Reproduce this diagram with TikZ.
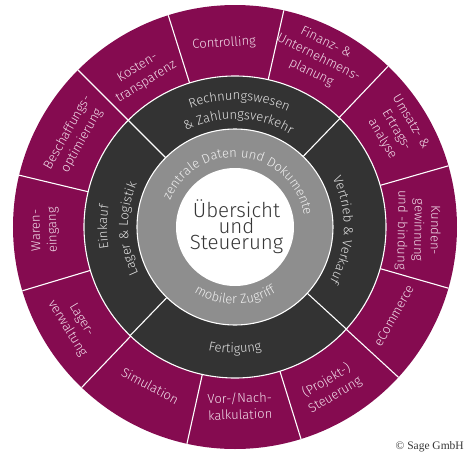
\documentclass[tikz,border=0pt]{standalone}
\usepackage{fontspec}
\setmainfont{Fira Sans Light}
\newfontfamily\copyfont{Liberation Serif}
\usetikzlibrary{decorations.text}
\definecolor{wine}{RGB}{133,11,80}
\definecolor{coal}{RGB}{51,51,51}
\definecolor{ash}{RGB}{142,142,142}
\definecolor{winetext}{RGB}{242,222,234}
\definecolor{coaltext}{RGB}{226,226,226}
\definecolor{ashtext}{RGB}{240,240,240}
\definecolor{ink}{RGB}{55,55,55}
\newcommand{\ringfont}{\fontsize{13}{15}\selectfont}
\newcommand{\cwtext}[4]{\path[decorate,decoration={text along path,text align=center,text color=#4,text={|\ringfont|#3}}] ({#1+100}:#2) arc[start angle={#1+100},end angle={#1-100},radius=#2];}
\newcommand{\ccwtext}[4]{\path[decorate,decoration={text along path,text align=center,text color=#4,text={|\ringfont|#3}}] ({#1-100}:#2) arc[start angle={#1-100},end angle={#1+100},radius=#2];}

\begin{document}
\begin{tikzpicture}[x=1pt,y=1pt,sep/.style={white,line width=1.1pt},
outer/.style={text=winetext,font=\fontsize{13}{16.5}\selectfont,align=center,inner sep=0pt}]
\useasboundingbox (-235,-229) rectangle (234,227);
\fill[wine] (0,0) circle (222);\fill[coal] (0,0) circle (151);\fill[ash] (0,0) circle (98);\fill[white] (0,0) circle (59);
\draw[sep] (0,0) circle (151);\draw[sep] (0,0) circle (98);
\foreach \a in {16,46.4,77.3,107.5,135,166.5,196.7,226.3,257.5,287.3,317.4,344}{\draw[sep] (\a:151) -- (\a:222);}
\foreach \a in {46,135,226,317.5}{\draw[sep] (\a:98) -- (\a:151);}
\foreach \a/\r/\t [count=\i] in {93.4/184/{Controlling},63.7/189/{Finanz- \&\\Unternehmens-\\planung},30.9/188/{Umsatz- \&\\Ertrags-\\analyse},-1/183/{Kunden-\\gewinnung\\und -bindung},330.8/182/{eCommerce},300.8/187/{(Projekt-)\\Steuerung},271.6/179/{Vor-/Nach-\\kalkulation},241.9/180/{Simulation},211.2/188/{Lager-\\verwaltung},181/190/{Waren-\\eingang},150.6/184/{Beschaffungs-\\optimierung},121.5/178/{Kosten-\\transparenz}}{\pgfmathsetmacro\rotang{\a<196 ? \a-90 : \a+90}\node[outer,rotate=\rotang] (out\i) at (\a:\r) {\t};}
\cwtext{88}{127}{Rechnungswesen}{coaltext}
\cwtext{88}{108}{{\&} Zahlungsverkehr}{coaltext}
\cwtext{180}{128}{Einkauf}{coaltext}
\cwtext{181}{107}{Lager {\&} Logistik}{coaltext}
\cwtext{-1.5}{109}{Vertrieb {\&} Verkauf}{coaltext}
\ccwtext{270}{126}{Fertigung}{coaltext}
\cwtext{83.5}{70}{zentrale Daten und Dokumente}{ashtext}
\ccwtext{270}{77}{mobiler Zugriff}{ashtext}
\node[text=ink,font=\fontsize{20.5}{16}\selectfont,align=center] (mid) at (1.5,0) {Übersicht\\und\\Steuerung};
\node[text=ink,font=\copyfont\fontsize{11.5}{13}\selectfont,anchor=base east,inner sep=0pt] (copy) at (229,-222) {© Sage GmbH};
\end{tikzpicture}
\end{document}
